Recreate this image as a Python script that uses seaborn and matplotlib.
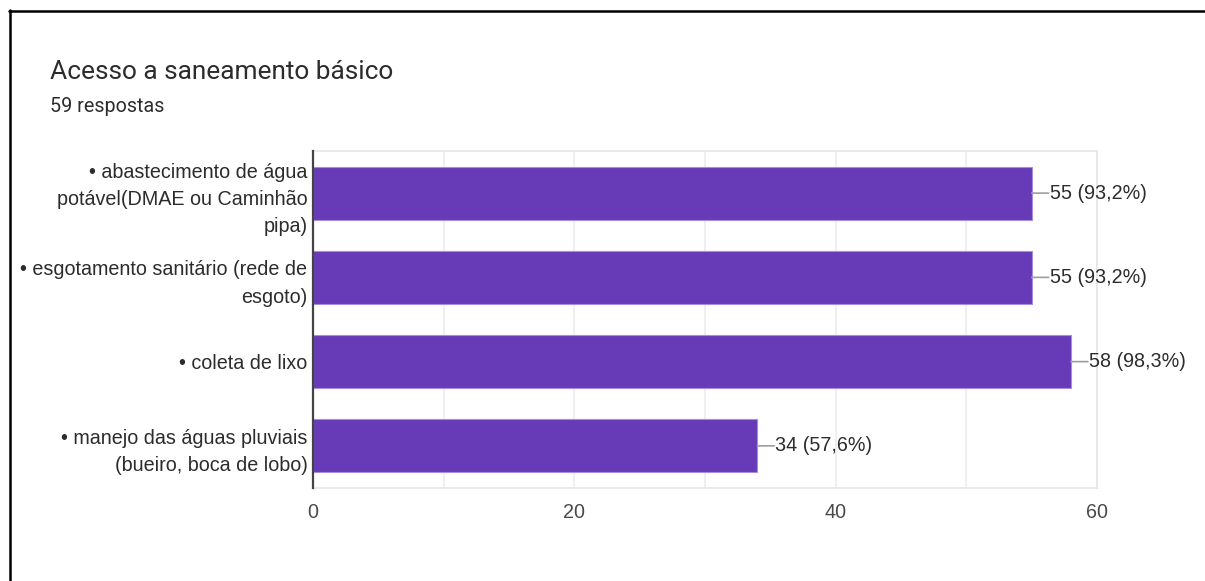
import matplotlib
matplotlib.use("Agg")
import matplotlib.pyplot as plt
from matplotlib.lines import Line2D
from matplotlib.ticker import MultipleLocator
import seaborn as sns
import pandas as pd

# Survey results
title = "Acesso a saneamento básico"
total_respostas = 59
categorias = [
    "• abastecimento de água\npotável(DMAE ou Caminhão\npipa)",
    "• esgotamento sanitário (rede de\nesgoto)",
    "• coleta de lixo",
    "• manejo das águas pluviais\n(bueiro, boca de lobo)",
]
contagens = [55, 55, 58, 34]
x_ticks = [0, 20, 40, 60]

sns.set_theme(style="white")
plt.rcParams["font.family"] = ["Liberation Sans", "DejaVu Sans"]
header_font = ["Roboto", "DejaVu Sans"]

W, H = 1205, 581
DPI = 100
px = 72 / DPI  # one pixel in points

fig = plt.figure(figsize=(W / DPI, H / DPI), dpi=DPI)
fig.patch.set_facecolor("white")

ax = fig.add_axes([313 / W, 1 - 488 / H, (1097 - 313) / W, (488 - 151) / H])

df = pd.DataFrame({"categoria": categorias, "contagem": contagens})
purple = "#673ab7"
sns.barplot(data=df, x="contagem", y="categoria", orient="h", color=purple,
            saturation=1, width=0.63, edgecolor="#a58fdc", linewidth=0.8,
            ax=ax, zorder=3)

ax.set_xlim(0, 60)
ax.set_ylim(3.5, -0.5)
ax.set_xticks(x_ticks)
ax.xaxis.set_minor_locator(MultipleLocator(10))
ax.grid(axis="x", which="both", color="#ececec", linewidth=1.2, zorder=0)
ax.set_axisbelow(True)
ax.set_xlabel("")
ax.set_ylabel("")

text_color = "#2c2c2c"
label_size = 14.2
ax.tick_params(axis="x", which="both", length=0, pad=11, labelsize=label_size,
               labelcolor="#4a4a4a")
ax.tick_params(axis="y", length=0, pad=4, labelsize=label_size,
               labelcolor=text_color)
for lbl in ax.get_yticklabels():
    lbl.set_linespacing(1.55)
    lbl.set_horizontalalignment("right")

for side in ["top", "right", "bottom"]:
    ax.spines[side].set_color("#e6e6e6")
    ax.spines[side].set_linewidth(1.2)
ax.spines["left"].set_color("#444444")
ax.spines["left"].set_linewidth(1.6)
ax.spines["left"].set_zorder(5)

# Value annotations with a short leader line
for i, v in enumerate(contagens):
    pct = f"{v / total_respostas * 100:.1f}".replace(".", ",")
    ax.annotate("", xy=(v, i), xytext=(17 * px, 0), textcoords="offset points",
                xycoords="data", annotation_clip=False,
                arrowprops=dict(arrowstyle="-", color="#9e9e9e", lw=1.2,
                                shrinkA=0, shrinkB=0))
    ax.annotate(f"{v} ({pct}%)", xy=(v, i), xytext=(18 * px, 0),
                textcoords="offset points", va="center", ha="left",
                fontsize=label_size, color=text_color, annotation_clip=False)

fig.text(50 / W, 1 - 79 / H, title, fontsize=18.9, color=text_color,
         va="baseline", ha="left", family=header_font)
fig.text(50 / W, 1 - 112 / H, f"{total_respostas} respostas", fontsize=14.2,
         color=text_color, va="baseline", ha="left", family=header_font)

# Frame edges along the top and left of the figure
fig.add_artist(Line2D([9 / W, 1], [1 - 10.5 / H, 1 - 10.5 / H],
                      transform=fig.transFigure, color="black", lw=1.8))
fig.add_artist(Line2D([9.5 / W, 9.5 / W], [0, 1 - 10 / H],
                      transform=fig.transFigure, color="black", lw=1.8))

fig.savefig("out.png", dpi=DPI, facecolor="white")
